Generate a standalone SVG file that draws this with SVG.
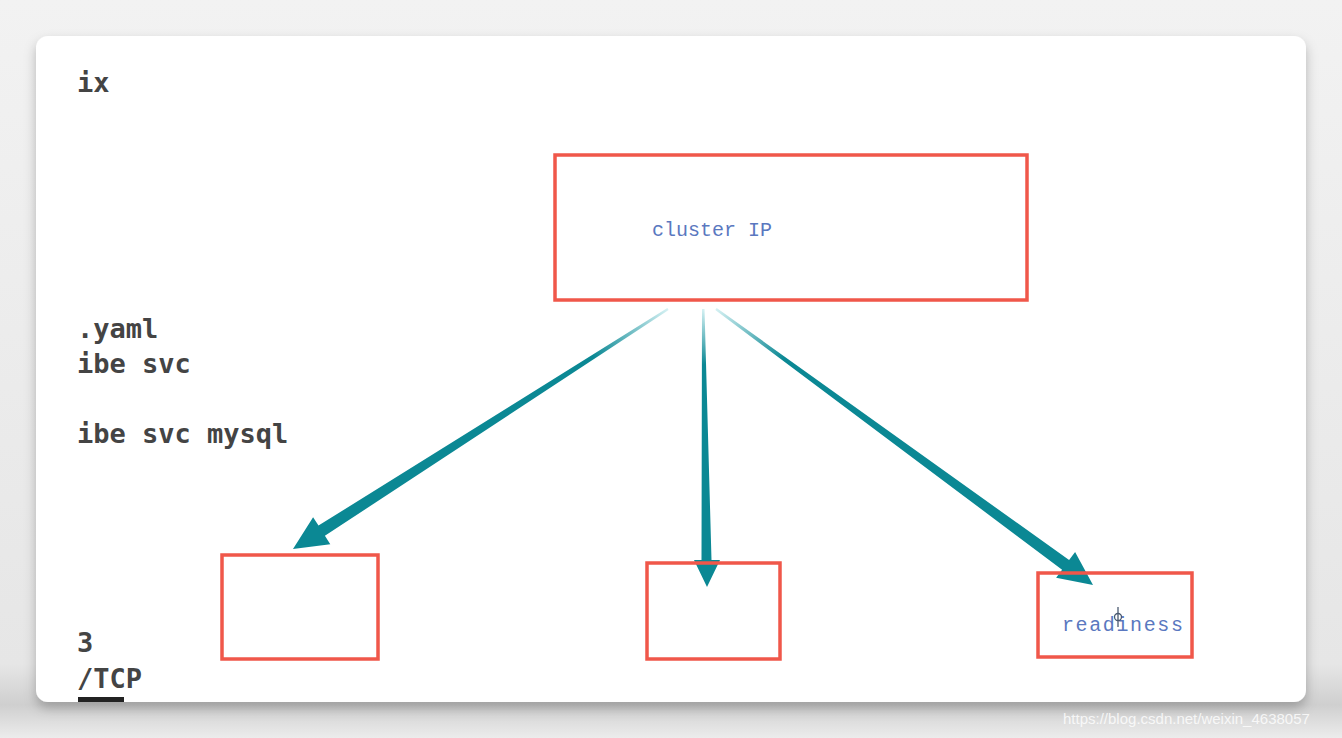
<svg xmlns="http://www.w3.org/2000/svg" width="1342" height="738" viewBox="0 0 1342 738">
<defs>
<linearGradient id="bg" x1="0" y1="0" x2="0" y2="1">
<stop offset="0" stop-color="#f2f2f2"/>
<stop offset="0.9" stop-color="#e6e6e6"/>
<stop offset="0.955" stop-color="#cfcfcf"/>
<stop offset="1" stop-color="#ececec"/>
</linearGradient>
<filter id="sh" x="-5%" y="-5%" width="110%" height="115%">
<feDropShadow dx="0" dy="6" stdDeviation="6" flood-color="#000" flood-opacity="0.25"/>
</filter>
<linearGradient id="gL" gradientUnits="userSpaceOnUse" x1="668" y1="309" x2="293" y2="549">
<stop offset="0" stop-color="#d5f1f3"/><stop offset="0.2" stop-color="#0b8894"/><stop offset="1" stop-color="#0b8894"/>
</linearGradient>
<linearGradient id="gM" gradientUnits="userSpaceOnUse" x1="703" y1="309" x2="707" y2="587">
<stop offset="0" stop-color="#d5f1f3"/><stop offset="0.2" stop-color="#0b8894"/><stop offset="1" stop-color="#0b8894"/>
</linearGradient>
<linearGradient id="gR" gradientUnits="userSpaceOnUse" x1="716" y1="309" x2="1093" y2="585">
<stop offset="0" stop-color="#d5f1f3"/><stop offset="0.18" stop-color="#0b8894"/><stop offset="1" stop-color="#0b8894"/>
</linearGradient>
</defs>
<style>
.box{fill:none;stroke:#f0574a;stroke-width:3.5}
.term{font-family:"DejaVu Sans Mono",monospace;font-size:27px;font-weight:bold;fill:#444444}
.lbl{font-family:"Liberation Mono","DejaVu Sans Mono",monospace;font-size:20px;fill:#5a78c0}
</style>
<rect x="0" y="0" width="1342" height="738" fill="url(#bg)"/>
<rect x="36" y="36" width="1270" height="666" rx="12" fill="#ffffff" filter="url(#sh)"/>
<text x="1063" y="724" font-family="Liberation Sans, Arial, sans-serif" font-size="15" fill="#ffffff" fill-opacity="0.8">https://blog.csdn.net/weixin_4638057</text>
<g id="terminal">
<text class="term" x="77" y="92">ix</text>
<text class="term" x="77" y="338">.yaml</text>
<text class="term" x="77" y="373">ibe svc</text>
<text class="term" x="77" y="443">ibe svc mysql</text>
<text class="term" x="77" y="652">3</text>
<text class="term" x="77" y="688">/TCP</text>
<rect x="78" y="697" width="46" height="5" fill="#222"/>
</g>
<g id="connectors">
<polygon fill="url(#gL)" points="668.6,310 324.9,535.8 330.3,544.2 293,549 313.1,517.2 318.5,525.6 667.4,308"/>
<polygon fill="url(#gM)" points="702,309 704.5,309 711.5,560 720,560 707,587 694,560 701.5,560"/>
<polygon fill="url(#gR)" points="715.3,310 1062.1,569.7 1056.1,577.8 1093,585 1075.1,552.0 1069.1,560.1 716.7,308"/>
</g>
<g id="cluster-ip">
<rect class="box" x="555" y="155" width="472" height="145"/>
<text class="lbl" x="652" y="236">cluster IP</text>
</g>
<g id="pod-left">
<rect class="box" x="222" y="555" width="156" height="104"/>
</g>
<g id="pod-middle">
<rect class="box" x="647" y="563" width="133" height="96"/>
</g>
<g id="pod-right">
<rect class="box" x="1038" y="573" width="154" height="84"/>
<text class="lbl" x="1062" y="631" font-size="21" textLength="121">readiness</text>
<circle cx="1118" cy="617" r="3.5" fill="none" stroke="#4a5a70" stroke-width="1.3"/>
<line x1="1118" y1="607" x2="1118" y2="627" stroke="#4a5a70" stroke-width="1.3"/>
</g>
</svg>
